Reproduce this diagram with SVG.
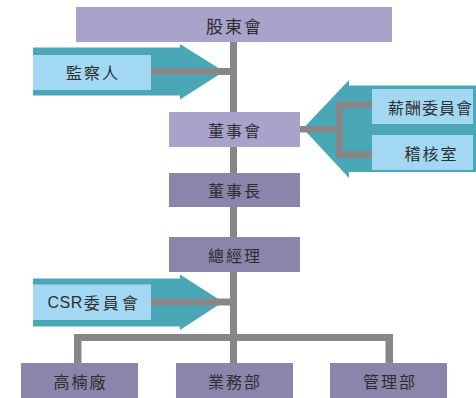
<svg xmlns="http://www.w3.org/2000/svg" width="476" height="398" viewBox="0 0 476 398">
<style>
.lp{fill:#A9A3CC}
.dp{fill:#8B84AB}
.lb{fill:#A3D8F3}
.teal{fill:#4AA8B6}
.ln{fill:#87878A}
text{font-family:"Noto Sans CJK TC","Noto Sans CJK SC",sans-serif;font-size:16px;fill:#2E2E2E;letter-spacing:2px;dominant-baseline:central}
.m{text-anchor:middle}
.lat{font-family:"Liberation Sans",sans-serif;letter-spacing:0.5px}
</style>
<rect width="476" height="398" fill="#FFFFFF"/>
<g id="arrows">
<polygon class="teal" points="33,47.5 180,47.5 180,44 224,71.5 180,99.5 180,95.5 33,95.5"/>
<polygon class="teal" points="476,85.5 349,85.5 349,80 303,128.5 349,178 349,172 476,172"/>
<polygon class="teal" points="33,278.5 180,278.5 180,274.5 223,302 180,330 180,326.5 33,326.5"/>
</g>
<g id="connectors">
<rect class="ln" x="230" y="42" width="7" height="321"/>
<rect class="ln" x="151" y="68" width="82" height="7"/>
<rect class="ln" x="300" y="126" width="40" height="6.5"/>
<rect class="ln" x="336" y="101" width="7" height="57"/>
<rect class="ln" x="336" y="101" width="36" height="7"/>
<rect class="ln" x="336" y="151" width="36" height="7"/>
<rect class="ln" x="151" y="298.5" width="82" height="7"/>
<rect class="ln" x="74" y="334" width="319" height="7"/>
<rect class="ln" x="74" y="334" width="7.5" height="29"/>
<rect class="ln" x="385.5" y="334" width="7.5" height="29"/>
</g>
<g id="n-gudonghui"><rect class="lp" x="76" y="7" width="316" height="35"/><text class="m" x="234.5" y="25" style="font-size:17px">股東會</text></g>
<g id="n-jianchaoren"><rect class="lb" x="33" y="55" width="118" height="35"/><text class="m" x="93" y="72">監察人</text></g>
<g id="n-dongshihui"><rect class="lp" x="169" y="112" width="131" height="35"/><text class="m" x="235" y="129.5">董事會</text></g>
<g id="n-xinchou"><rect class="lb" x="372" y="89" width="101" height="35"/><text x="388" y="106.5" style="letter-spacing:1px">薪酬委員會</text></g>
<g id="n-jihe"><rect class="lb" x="372" y="135" width="101" height="35"/><text class="m" x="431.5" y="152.5">稽核室</text></g>
<g id="n-dongshizhang"><rect class="dp" x="169" y="173" width="131" height="34"/><text class="m" x="235" y="190">董事長</text></g>
<g id="n-zongjingli"><rect class="dp" x="169" y="237" width="131" height="35"/><text class="m" x="235" y="254.5">總經理</text></g>
<g id="n-csr"><rect class="lb" x="33" y="284.5" width="118" height="35.5"/><text x="47.5" y="302"><tspan class="lat">CSR</tspan><tspan dx="1" style="letter-spacing:3px">委員會</tspan></text></g>
<g id="n-gaonan"><rect class="dp" x="21" y="363" width="117" height="35"/><text class="m" x="80.5" y="380.5">高楠廠</text></g>
<g id="n-yewu"><rect class="dp" x="176" y="363" width="117" height="35"/><text class="m" x="235" y="380.5">業務部</text></g>
<g id="n-guanli"><rect class="dp" x="330" y="363" width="117" height="35"/><text class="m" x="390" y="380.5">管理部</text></g>
</svg>
